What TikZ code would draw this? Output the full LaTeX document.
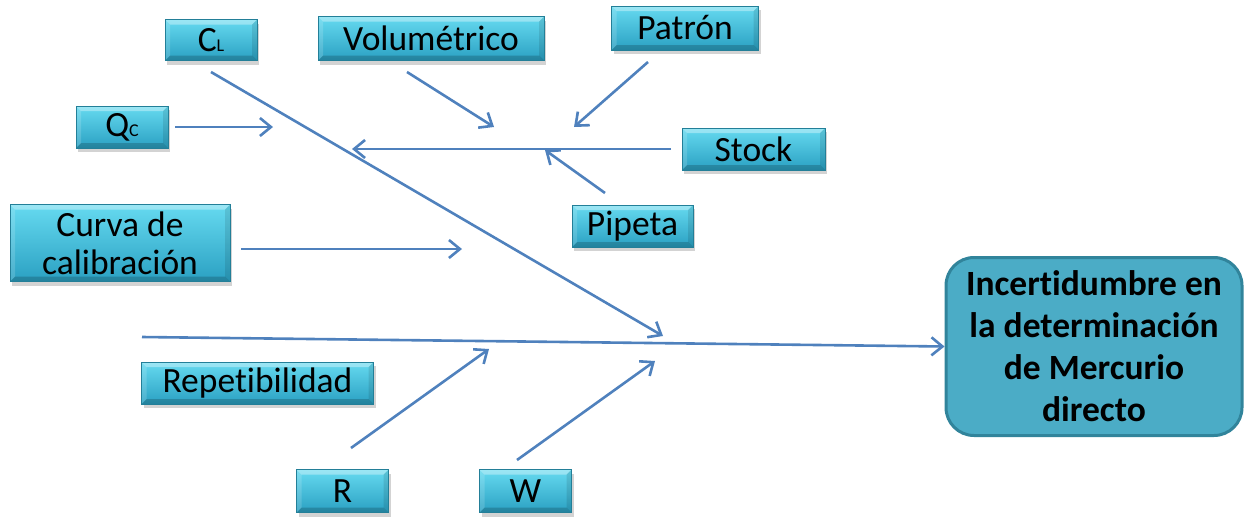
\documentclass[tikz,border=0pt]{standalone}
\usepackage{fontspec}
\setmainfont[Ligatures=NoCommon]{Carlito}
\usetikzlibrary{arrows.meta,shadows}
\definecolor{arr}{HTML}{4F81BD}
\definecolor{btop}{HTML}{66DAF0}
\definecolor{bbot}{HTML}{2AA0C2}
\definecolor{bline}{HTML}{237F98}
\definecolor{bigfill}{HTML}{4BACC6}
\definecolor{bigline}{HTML}{31849B}
\tikzset{
  sbox/.style={rectangle, draw=bline, line width=0.8pt, top color=btop, bottom color=bbot,
    inner sep=0pt, font=\fontsize{35.5}{38}\selectfont, align=center,
    drop shadow={opacity=0.35, shadow xshift=2pt, shadow yshift=-4pt},
    path picture={
      \fill[white,opacity=0.35] (path picture bounding box.north west) -- (path picture bounding box.north east)
        -- ([xshift=-5pt,yshift=-5pt]path picture bounding box.north east) -- ([xshift=5pt,yshift=-5pt]path picture bounding box.north west) -- cycle;
      \fill[black,opacity=0.18] (path picture bounding box.south west) -- (path picture bounding box.south east)
        -- ([xshift=-5pt,yshift=5pt]path picture bounding box.south east) -- ([xshift=5pt,yshift=5pt]path picture bounding box.south west) -- cycle;
      \fill[black,opacity=0.10] (path picture bounding box.north east) -- (path picture bounding box.south east)
        -- ([xshift=-5pt,yshift=5pt]path picture bounding box.south east) -- ([xshift=-5pt,yshift=-5pt]path picture bounding box.north east) -- cycle;
      \fill[white,opacity=0.15] (path picture bounding box.north west) -- (path picture bounding box.south west)
        -- ([xshift=5pt,yshift=5pt]path picture bounding box.south west) -- ([xshift=5pt,yshift=-5pt]path picture bounding box.north west) -- cycle;
    }},
  bigbox/.style={rectangle, rounded corners=28pt, draw=bigline, line width=3pt, fill=bigfill,
    inner sep=0pt, font=\fontsize{35.5}{42}\selectfont\bfseries, align=center},
  conn/.style={draw=arr, line width=2.6pt, -{Straight Barb[length=11pt,width=18pt,line width=2.6pt]}}
}
\newcommand{\smallsub}[1]{{\fontsize{18}{18}\selectfont #1}}
\begin{document}
\begin{tikzpicture}[x=1pt,y=-1pt]
\useasboundingbox (0,0) rectangle (1244,517);
% boxes
\node[sbox, minimum width=92pt, minimum height=41pt] (cl) at (211,40) {C\smallsub{L}};
\node[sbox, minimum width=226pt, minimum height=44pt] (vol) at (431,38.5) {Volumétrico};
\node[sbox, minimum width=147pt, minimum height=44pt] (pat) at (685,28) {Patrón};
\node[sbox, minimum width=92pt, minimum height=42pt] (qc) at (122,127) {Q\smallsub{C}};
\node[sbox, minimum width=143pt, minimum height=42pt] (stock) at (753.5,149) {Stock};
\node[sbox, minimum width=121pt, minimum height=42pt] (pip) at (632.5,226) {Pipeta};
\node[sbox, minimum width=220pt, minimum height=77pt] (cur) at (120,243) {Curva de\\calibración};
\node[sbox, minimum width=232pt, minimum height=42pt] (rep) at (257.5,383) {Repetibilidad};
\node[sbox, minimum width=92pt, minimum height=43pt] (r) at (342.5,491) {R};
\node[sbox, minimum width=92pt, minimum height=43pt] (w) at (525.5,491) {W};
\node[bigbox, minimum width=296pt, minimum height=178pt] (big) at (1094,346.5) {Incertidumbre en\\la determinación\\de Mercurio\\directo};
% coordinates
\coordinate (s0) at (142,337);
\coordinate (cls) at (211,72);
\coordinate (clt) at (663,336);
\coordinate (qcs) at (175,127);
\coordinate (qct) at (273,127);
\coordinate (sts) at (671,149);
\coordinate (stt) at (352,149);
\coordinate (vos) at (407,72);
\coordinate (vot) at (494,127);
\coordinate (pas) at (648,62);
\coordinate (pat2) at (574,127);
\coordinate (pis) at (605,193);
\coordinate (pit) at (545,150);
\coordinate (cus) at (241,249);
\coordinate (cut) at (462,249);
\coordinate (rs) at (351,448);
\coordinate (rt) at (489,349);
\coordinate (ws) at (517,460);
\coordinate (wt) at (655,361);
% connectors
\draw[conn] (s0) -- (big.west);
\draw[conn] (cls) -- (clt);
\draw[conn] (qcs) -- (qct);
\draw[conn] (sts) -- (stt);
\draw[conn] (vos) -- (vot);
\draw[conn] (pas) -- (pat2);
\draw[conn] (pis) -- (pit);
\draw[conn] (cus) -- (cut);
\draw[conn] (rs) -- (rt);
\draw[conn] (ws) -- (wt);
\end{tikzpicture}
\end{document}
